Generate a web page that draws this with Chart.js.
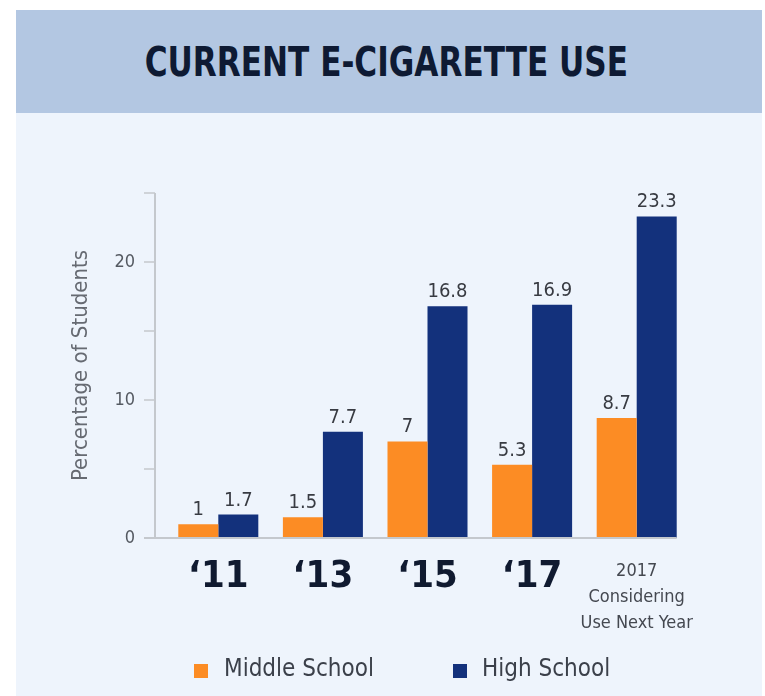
<!DOCTYPE html>
<html>
<head>
<meta charset="utf-8">
<script src="https://cdn.jsdelivr.net/npm/chart.js@4.4.1/dist/chart.umd.min.js"></script>
<style>
  html, body { margin: 0; padding: 0; background: #ffffff; }
  body { width: 765px; height: 696px; position: relative; overflow: hidden;
         font-family: "Liberation Sans Narrow", "DejaVu Sans Condensed", sans-serif; }
  #card { position: absolute; left: 16px; top: 10px; width: 746px; height: 686px; background: #eef4fc; }
  #header { height: 103px; background: #b3c7e2; display: flex; align-items: center; justify-content: center; }
  #header h1 { margin: 0 0 0 -5px; font-size: 40px; font-weight: bold; color: #0e1a33; transform: scaleX(0.865); }
  #chart-wrap { position: absolute; left: 0; top: 0; width: 765px; height: 696px; }
  .legend-box { position: absolute; width: 14px; height: 14px; }
  .legend-text { position: absolute; font-size: 24px; color: #3b404a; line-height: 28px; }
</style>
</head>
<body>
<div id="card">
  <div id="header"><h1>CURRENT E-CIGARETTE USE</h1></div>
</div>
<div id="chart-wrap"><canvas id="ecigChart" width="765" height="696"></canvas></div>
<div class="legend-box" style="left:194px; top:664px; background:#fc8c24;"></div>
<div class="legend-text" style="left:224px; top:654px;">Middle School</div>
<div class="legend-box" style="left:453px; top:664px; background:#13317c;"></div>
<div class="legend-text" style="left:482px; top:654px;">High School</div>

<script>
const categories = ["‘11", "‘13", "‘15", "‘17", ["2017", "Considering", "Use Next Year"]];
const middleSchool = [1, 1.5, 7, 5.3, 8.7];
const highSchool = [1.7, 7.7, 16.8, 16.9, 23.3];
const yTicks = [0, 10, 20];

const condensed = "'Liberation Sans Narrow', 'DejaVu Sans Condensed', sans-serif";

// axis line, tick marks and baseline sit a little left of the plot area
const axisPlugin = {
  id: "axisLines",
  afterDraw(chart) {
    const ctx = chart.ctx;
    const y = chart.scales.y;
    const area = chart.chartArea;
    const axisX = area.left - 11;
    ctx.save();
    ctx.strokeStyle = "#c4c8cd";
    ctx.lineWidth = 2;
    ctx.beginPath();
    ctx.moveTo(axisX, y.getPixelForValue(y.max));
    ctx.lineTo(axisX, y.getPixelForValue(0));
    ctx.stroke();
    ctx.lineWidth = 1.5;
    y.ticks.forEach((t) => {
      const py = y.getPixelForValue(t.value);
      ctx.beginPath();
      ctx.moveTo(axisX - 11, py);
      ctx.lineTo(axisX, py);
      ctx.stroke();
    });
    const lastMeta = chart.getDatasetMeta(chart.data.datasets.length - 1);
    const lastBar = lastMeta.data[lastMeta.data.length - 1];
    ctx.lineWidth = 2;
    ctx.beginPath();
    ctx.moveTo(axisX - 11, y.getPixelForValue(0));
    ctx.lineTo(lastBar.x + lastBar.width / 2, y.getPixelForValue(0));
    ctx.stroke();
    ctx.restore();
  },
};

const valueLabels = {
  id: "valueLabels",
  afterDatasetsDraw(chart) {
    const ctx = chart.ctx;
    ctx.save();
    ctx.font = "20px " + condensed;
    ctx.fillStyle = "#383b42";
    ctx.textAlign = "center";
    ctx.textBaseline = "alphabetic";
    chart.data.datasets.forEach((ds, i) => {
      chart.getDatasetMeta(i).data.forEach((bar, j) => {
        ctx.fillText(String(ds.data[j]), bar.x, bar.y - 9);
      });
    });
    ctx.restore();
  },
};

new Chart(document.getElementById("ecigChart"), {
  type: "bar",
  data: {
    labels: categories,
    datasets: [
      {
        label: "Middle School",
        data: middleSchool,
        backgroundColor: "#fc8c24",
        categoryPercentage: 0.765,
        barPercentage: 1,
      },
      {
        label: "High School",
        data: highSchool,
        backgroundColor: "#13317c",
        categoryPercentage: 0.765,
        barPercentage: 1,
      },
    ],
  },
  options: {
    responsive: false,
    animation: false,
    layout: { padding: { left: 64, top: 193, right: 76, bottom: 0 } },
    plugins: {
      legend: { display: false },
      tooltip: { enabled: false },
    },
    scales: {
      x: {
        grid: { display: false, drawTicks: false },
        border: { display: false },
        ticks: {
          padding: 21,
          autoSkip: false,
          maxRotation: 0,
          color: (c) => (c.index === 4 ? "#444850" : "#101a30"),
          font: (c) =>
            c.index === 4
              ? { family: condensed, size: 18, lineHeight: 1.42 }
              : { family: condensed, size: 38, weight: "bold", lineHeight: 0.95 },
        },
        afterFit: (s) => { s.height = 158; },
      },
      y: {
        min: 0,
        max: 25,
        grid: { display: false, drawTicks: false },
        border: { display: false },
        ticks: {
          stepSize: 5,
          padding: 31,
          color: "#555a62",
          font: { family: condensed, size: 18 },
          callback: (v) => (yTicks.includes(v) ? v : ""),
        },
        title: {
          display: true,
          text: "Percentage of Students",
          color: "#666a72",
          font: { family: condensed, size: 22 },
        },
        afterFit: (s) => { s.width = 102; },
      },
    },
  },
  plugins: [axisPlugin, valueLabels],
});
</script>
</body>
</html>
